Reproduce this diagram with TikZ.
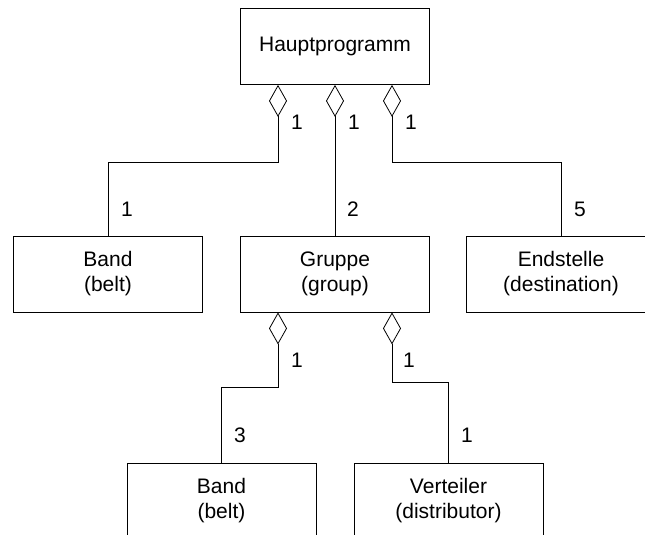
\documentclass[tikz,border=0pt]{standalone}
\usepackage{fontspec}
\setmainfont{Liberation Sans}
\usepackage{tikz}
\usetikzlibrary{arrows.meta}

\begin{document}
\begin{tikzpicture}[x=1pt,y=-1pt,
    cls/.style={draw,line width=0.8pt,minimum width=189pt,minimum height=76pt,
      align=center,font=\fontsize{21}{25}\selectfont},
    mult/.style={inner sep=0pt,font=\fontsize{21}{25}\selectfont},
    agg/.style={{Diamond[open,length=32pt,width=18pt,line width=0.8pt]}-,line width=0.8pt}]
  \useasboundingbox (0,0) rectangle (645,535);
  \clip (0,0) rectangle (645,535);
  % classes
  \node[cls] (haupt) at (335,46.5) {Hauptprogramm};
  \node[cls] (band) at (108,274) {Band\\(belt)};
  \node[cls] (gruppe) at (335,274) {Gruppe\\(group)};
  \node[cls] (ende) at (561,274) {Endstelle\\(destination)};
  \node[cls] (gband) at (221.5,501) {Band\\(belt)};
  \node[cls] (vert) at (448.5,501) {Verteiler\\(distributor)};
  % aggregations
  \draw[agg] ([xshift=-57pt]haupt.south) -- ++(0,77) -| (band.north);
  \draw[agg] (haupt.south) -- (gruppe.north);
  \draw[agg] ([xshift=57pt]haupt.south) -- ++(0,77) -| (ende.north);
  \draw[agg] ([xshift=-57pt]gruppe.south) -- ++(0,75) -| (gband.north);
  \draw[agg] ([xshift=57pt]gruppe.south) -- ++(0,70) -| (vert.north);
  % multiplicities
  \node[mult] (h1) at (297,122) {1};
  \node[mult] (h2) at (354,122) {1};
  \node[mult] (h3) at (411,122) {1};
  \node[mult] (b1) at (127,209) {1};
  \node[mult] (g1) at (353,209) {2};
  \node[mult] (e1) at (580,209) {5};
  \node[mult] (gr1) at (297,360) {1};
  \node[mult] (gr2) at (409,360) {1};
  \node[mult] (gb1) at (240,435) {3};
  \node[mult] (v1) at (467,435) {1};
\end{tikzpicture}
\end{document}
